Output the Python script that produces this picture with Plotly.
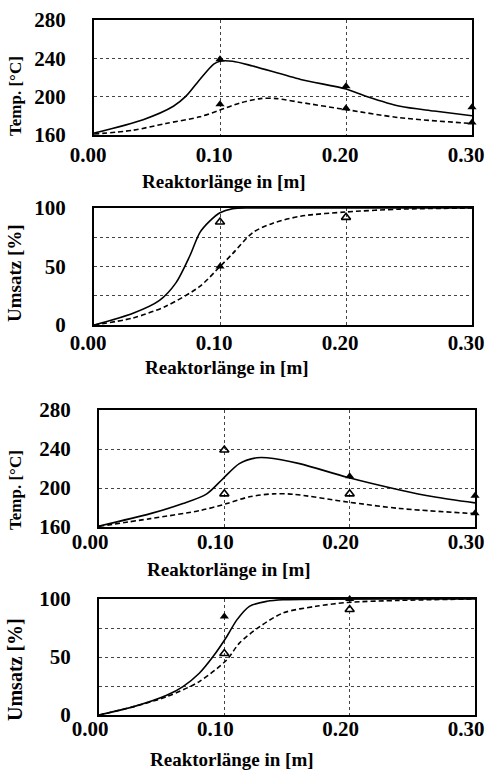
import plotly.graph_objects as go

# ---------------- data ----------------
# Panel 1: temperature
t1_x_solid = [0.0, 0.039, 0.063, 0.073, 0.084, 0.095, 0.10, 0.11, 0.126, 0.164, 0.20, 0.217, 0.243, 0.27, 0.30]
t1_y_solid = [162, 176, 190, 200.5, 218, 234, 237, 237, 232, 218, 208, 200, 190, 185, 180]
t1_x_dash = [0.0, 0.031, 0.057, 0.084, 0.10, 0.116, 0.132, 0.145, 0.164, 0.20, 0.243, 0.30]
t1_y_dash = [161, 165, 172, 179, 186, 193.5, 198, 198, 194, 186.5, 178, 172]
t1_mx = [0.10, 0.10, 0.20, 0.20, 0.30, 0.30]
t1_my = [239, 192, 211, 188, 189, 173]
t1_mfill = [True, True, True, True, True, True]

# Panel 2: conversion
u1_x_solid = [0.0, 0.031, 0.052, 0.065, 0.076, 0.084, 0.092, 0.10, 0.11, 0.125, 0.30]
u1_y_solid = [0, 10, 21, 36, 59, 79, 89, 96, 99.4, 100, 100]
u1_x_dash = [0.0, 0.031, 0.057, 0.084, 0.10, 0.11, 0.126, 0.142, 0.164, 0.20, 0.243, 0.30]
u1_y_dash = [0, 6, 16, 33, 50, 61, 79, 87, 93, 96.6, 99, 100]
u1_mx = [0.10, 0.10, 0.20]
u1_my = [88, 50, 92]
u1_mfill = [False, True, False]

# Panel 3: temperature
t2_x_solid = [0.0, 0.041, 0.067, 0.086, 0.099, 0.112, 0.126, 0.134, 0.16, 0.198, 0.24, 0.267, 0.30]
t2_y_solid = [161, 173.7, 184, 194, 209.7, 225, 231, 231, 225, 211, 198, 191, 184.7]
t2_x_dash = [0.0, 0.041, 0.081, 0.102, 0.12, 0.139, 0.155, 0.198, 0.24, 0.30]
t2_y_dash = [160.7, 168.6, 177, 184, 191, 194, 193.6, 185.7, 179, 173.7]
t2_mx = [0.10, 0.10, 0.20, 0.20, 0.30, 0.30]
t2_my = [239, 194, 212, 194, 192, 174]
t2_mfill = [False, False, True, False, True, True]

# Panel 4: conversion
u2_x_solid = [0.0, 0.027, 0.054, 0.067, 0.08, 0.091, 0.102, 0.11, 0.12, 0.134, 0.147, 0.30]
u2_y_solid = [0, 7, 17, 24.5, 36, 50.4, 67.7, 82, 93.7, 98, 99.4, 100]
u2_x_dash = [0.0, 0.027, 0.054, 0.08, 0.102, 0.112, 0.128, 0.147, 0.173, 0.198, 0.24, 0.30]
u2_y_dash = [0, 7, 15.8, 28.8, 47.6, 62, 76, 88, 93.7, 97, 98.8, 100]
u2_mx = [0.10, 0.10, 0.20, 0.20]
u2_my = [85, 53, 100, 91]
u2_mfill = [True, False, True, False]

x_ticks = [0.0, 0.1, 0.2, 0.3]
x_tick_labels = ["0.00", "0.10", "0.20", "0.30"]
temp_ticks = [160, 200, 240, 280]
temp_tick_labels = ["160", "200", "240", "280"]
conv_ticks = [0, 25, 50, 75, 100]
conv_tick_labels = ["0", "", "50", "", "100"]

x_title = "Reaktorlänge in [m]"
temp_title = "Temp. [°C]"
conv_title = "Umsatz [%]"

# ---------------- layout helpers ----------------
W, H = 485, 770
FONT = "Liberation Serif"

def px_x(p):
    return p / W

def px_y(p):
    return 1 - p / H

# plot area boxes (left, right, top, bottom) in pixels
boxes = [
    (94, 472, 20, 135),
    (94, 472, 208, 325),
    (99, 475, 410, 527),
    (99, 475, 599, 715),
]
xlabel_standoff = [0, -2, -5, -6]
xlabel_shift = [-6, -6, -9, -9]

panels = [
    (t1_x_solid, t1_y_solid, t1_x_dash, t1_y_dash, t1_mx, t1_my, t1_mfill, "temp"),
    (u1_x_solid, u1_y_solid, u1_x_dash, u1_y_dash, u1_mx, u1_my, u1_mfill, "conv"),
    (t2_x_solid, t2_y_solid, t2_x_dash, t2_y_dash, t2_mx, t2_my, t2_mfill, "temp"),
    (u2_x_solid, u2_y_solid, u2_x_dash, u2_y_dash, u2_mx, u2_my, u2_mfill, "conv"),
]

# annotation positions for titles (pixels)
xtitle_pos = [(224, 181), (227, 367), (229, 569), (232, 759)]
ytitle_pos = [(15, 96), (15, 273), (15, 490), (15, 670)]
ytitle_size = [17, 19, 17, 20]

fig = go.Figure()
layout = dict(
    width=W, height=H,
    margin=dict(l=0, r=0, t=0, b=0, pad=0, autoexpand=False),
    paper_bgcolor="white", plot_bgcolor="white",
    showlegend=False,
    font=dict(family=FONT, color="black"),
)
annotations = []

for i, (xs, ys, xd, yd, mx, my, mf, kind) in enumerate(panels):
    n = "" if i == 0 else str(i + 1)
    xa, ya = "x" + n, "y" + n
    fig.add_trace(go.Scatter(x=xs, y=ys, mode="lines", xaxis=xa, yaxis=ya,
                             line=dict(color="black", width=1.6, shape="spline", smoothing=0.8)))
    fig.add_trace(go.Scatter(x=xd, y=yd, mode="lines", xaxis=xa, yaxis=ya,
                             line=dict(color="black", width=1.6, dash="5px,3px", shape="spline", smoothing=0.8)))
    fx = [x for x, f in zip(mx, mf) if f]
    fy = [y for y, f in zip(my, mf) if f]
    ox = [x for x, f in zip(mx, mf) if not f]
    oy = [y for y, f in zip(my, mf) if not f]
    fig.add_trace(go.Scatter(x=fx, y=fy, mode="markers", xaxis=xa, yaxis=ya, cliponaxis=False,
                             marker=dict(symbol="triangle-up", size=8, color="black")))
    fig.add_trace(go.Scatter(x=ox, y=oy, mode="markers", xaxis=xa, yaxis=ya, cliponaxis=False,
                             marker=dict(symbol="triangle-up-open", size=8, color="black",
                                         line=dict(width=1.6, color="black"))))

    l, r, t, b = boxes[i]
    xkey = "xaxis" + n
    ykey = "yaxis" + n
    layout[xkey] = dict(
        domain=[px_x(l), px_x(r)], anchor=ya, range=[0, 0.3],
        tickvals=x_ticks, ticktext=x_tick_labels, automargin=False,
        showline=True, mirror=True, linecolor="black", linewidth=2,
        showgrid=True, gridcolor="#444", griddash="dot", gridwidth=1,
        zeroline=False, ticks="", ticklabelstandoff=xlabel_standoff[i],
        ticklabelshift=xlabel_shift[i], ticklabeloverflow="allow",
        tickfont=dict(family=FONT, size=21, color="black", weight="bold"),
    )
    if kind == "temp":
        yr, tv, tt, title = [160, 280], temp_ticks, temp_tick_labels, temp_title
    else:
        yr, tv, tt, title = [0, 100], conv_ticks, conv_tick_labels, conv_title
    layout[ykey] = dict(
        domain=[px_y(b), px_y(t)], anchor=xa, range=yr,
        tickvals=tv, ticktext=tt, automargin=False,
        showline=True, mirror=True, linecolor="black", linewidth=2,
        showgrid=True, gridcolor="#444", griddash="dot", gridwidth=1,
        zeroline=False, ticks="", ticklabelstandoff=22,
        tickfont=dict(family=FONT, size=21, color="black", weight="bold"),
    )
    ax, ay = xtitle_pos[i]
    annotations.append(dict(text=x_title, x=px_x(ax), y=px_y(ay), xref="paper", yref="paper",
                            showarrow=False, xanchor="center", yanchor="middle",
                            font=dict(family=FONT, size=19, color="black", weight="bold")))
    ax, ay = ytitle_pos[i]
    annotations.append(dict(text=title, x=px_x(ax), y=px_y(ay), xref="paper", yref="paper",
                            showarrow=False, xanchor="center", yanchor="middle", textangle=-90,
                            font=dict(family=FONT, size=ytitle_size[i], color="black", weight="bold")))

layout["annotations"] = annotations
fig.update_layout(**layout)
fig.write_html("out.html", config={"displayModeBar": False},
               post_script="document.body.style.margin='0';document.body.style.overflow='hidden';")
